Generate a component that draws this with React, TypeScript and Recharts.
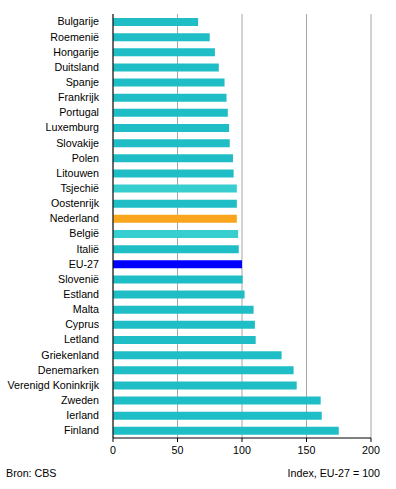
import React from "react";
import { BarChart, Bar, XAxis, YAxis, CartesianGrid, Cell } from "recharts";

const countries = [
  "Bulgarije", "Roemenië", "Hongarije", "Duitsland", "Spanje", "Frankrijk",
  "Portugal", "Luxemburg", "Slovakije", "Polen", "Litouwen", "Tsjechië",
  "Oostenrijk", "Nederland", "België", "Italië", "EU-27", "Slovenië",
  "Estland", "Malta", "Cyprus", "Letland", "Griekenland", "Denemarken",
  "Verenigd Koninkrijk", "Zweden", "Ierland", "Finland",
];

const indexValues = [
  66, 75, 79, 82, 86.5, 88, 89, 90, 90.5, 93, 93.5, 96,
  96, 96, 97, 97.5, 100, 100.5, 102, 109, 110, 110.6, 130.7, 140,
  142.4, 161, 161.8, 175,
];

const xTicks = [0, 50, 100, 150, 200];

const TEAL = "#1FBDC6";
const LIGHT_TEAL = "#36CECE";
const ORANGE = "#F9A61E";
const BLUE = "#0000FF";

const barColor = (name: string) => {
  if (name === "Nederland") return ORANGE;
  if (name === "EU-27") return BLUE;
  if (name === "Tsjechië" || name === "België") return LIGHT_TEAL;
  return TEAL;
};

const data = countries.map((name, i) => ({ name, value: indexValues[i] }));

const FONT = "'Liberation Sans', Arial, sans-serif";

// single-line category label, right aligned against the axis
const CountryTick = ({ x, y, payload }: any) => (
  <text
    x={x - 6}
    y={y}
    dy="0.36em"
    textAnchor="end"
    fontSize={10.7}
    fontFamily={FONT}
    fill="#000"
  >
    {payload.value}
  </text>
);

export default function App() {
  return (
    <div
      style={{
        position: "absolute",
        left: 0,
        top: 0,
        width: 396,
        height: 489,
        background: "#fff",
        fontFamily: FONT,
      }}
    >
      <BarChart
        width={396}
        height={489}
        data={data}
        layout="vertical"
        margin={{ top: 14, right: 25, bottom: 21, left: 0 }}
        barSize={8}
      >
        <CartesianGrid horizontal={false} stroke="#A6A6A6" strokeWidth={1} />
        <XAxis
          type="number"
          domain={[0, 200]}
          ticks={xTicks}
          interval={0}
          axisLine={{ stroke: "#000" }}
          tickLine={{ stroke: "#000" }}
          tickSize={4}
          tickMargin={4}
          tick={{ fontSize: 10.7, fill: "#000", fontFamily: FONT }}
          height={30}
        />
        <XAxis
          xAxisId="top"
          orientation="top"
          type="number"
          domain={[0, 200]}
          tick={false}
          tickLine={false}
          axisLine={{ stroke: "#808080" }}
          height={0}
        />
        <YAxis
          type="category"
          dataKey="name"
          width={113}
          interval={0}
          axisLine={{ stroke: "#000" }}
          tickLine={false}
          tick={<CountryTick />}
        />
        <Bar dataKey="value" isAnimationActive={false}>
          {data.map((d) => (
            <Cell key={d.name} fill={barColor(d.name)} />
          ))}
        </Bar>
      </BarChart>
      <div
        style={{
          position: "absolute",
          left: 6,
          top: 467,
          fontSize: 10.7,
          color: "#000",
        }}
      >
        Bron: CBS
      </div>
      <div
        style={{
          position: "absolute",
          right: 16,
          top: 467,
          fontSize: 10.7,
          color: "#000",
        }}
      >
        Index, EU-27 = 100
      </div>
    </div>
  );
}
